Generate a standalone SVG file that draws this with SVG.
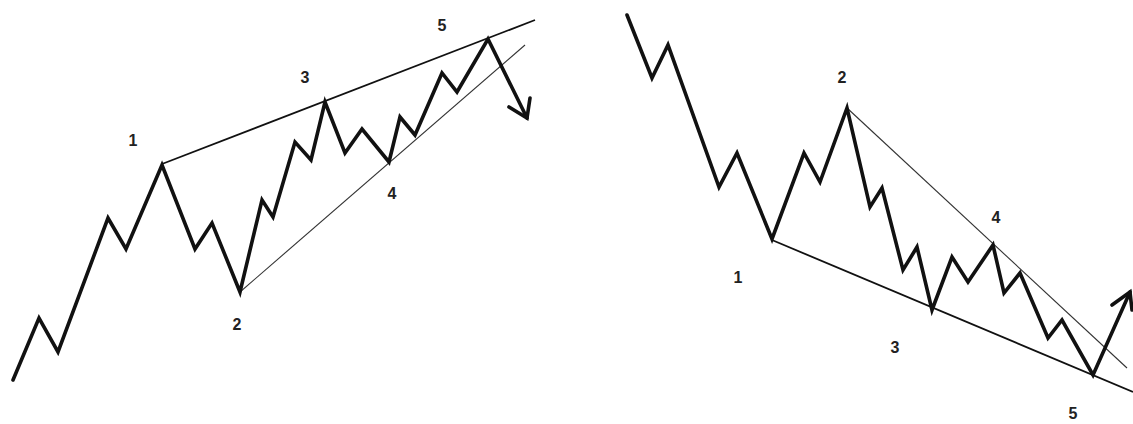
<svg xmlns="http://www.w3.org/2000/svg" width="1133" height="424" viewBox="0 0 1133 424">
<style>
.wave{fill:none;stroke:#111;stroke-width:3.6;stroke-linejoin:miter;stroke-linecap:round}
.trend{fill:none;stroke:#111;stroke-width:1.8}
.thin{fill:none;stroke:#333;stroke-width:1.1}
.lbl{font-family:"Liberation Sans",Arial,sans-serif;font-weight:bold;font-size:16px;fill:#222;text-anchor:middle}
</style>
<rect width="1133" height="424" fill="#fff"/>
<g id="rising-wedge">
<g id="left-lines">
<line class="trend" x1="162" y1="164" x2="535" y2="20"/>
<line class="thin" x1="240" y1="292" x2="525" y2="45"/>
</g>
<polyline class="wave" points="13,380 39,318 58,352 108,218 126,249 162,165 195,249 212,223 240,292 262,200 273,217 295,142 311,160 325,102 345,153 362,129 389,162 400,117 415,135 442,73 457,92 488,39 527,118"/>
<polyline class="wave" points="509,107 527,118 530,98"/>
<g id="left-labels">
<text class="lbl" x="133" y="146">1</text>
<text class="lbl" x="237" y="330">2</text>
<text class="lbl" x="305" y="83">3</text>
<text class="lbl" x="392" y="199">4</text>
<text class="lbl" x="442" y="31">5</text>
</g>
</g>
<g id="falling-wedge">
<g id="right-lines">
<line class="trend" x1="772" y1="240" x2="1133" y2="392"/>
<line class="thin" x1="847" y1="108" x2="1127" y2="368"/>
</g>
<polyline class="wave" points="627,15 652,78 668,45 719,187 737,153 772,239 804,153 820,182 847,108 870,207 882,188 903,270 917,247 932,310 952,257 968,282 993,245 1004,293 1020,273 1048,338 1062,320 1093,375 1130,292"/>
<polyline class="wave" points="1112,305 1130,292 1132,310"/>
<g id="right-labels">
<text class="lbl" x="738" y="283">1</text>
<text class="lbl" x="842" y="83">2</text>
<text class="lbl" x="895" y="353">3</text>
<text class="lbl" x="996" y="223">4</text>
<text class="lbl" x="1073" y="419">5</text>
</g>
</g>
</svg>
